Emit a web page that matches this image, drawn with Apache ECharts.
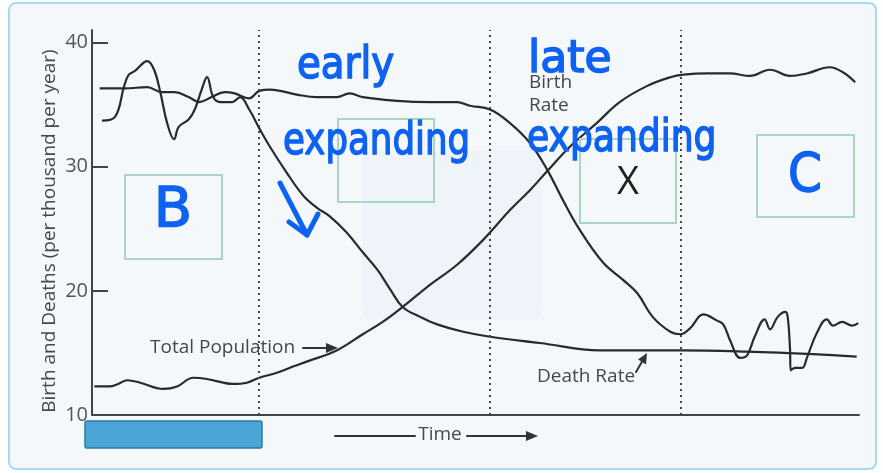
<!DOCTYPE html>
<html>
<head>
<meta charset="utf-8">
<title>Demographic transition</title>
<script src="https://cdn.jsdelivr.net/npm/echarts@6/dist/echarts.min.js"></script>
<style>
  html, body { margin: 0; padding: 0; background: #fff; }
  .card {
    position: absolute; left: 8px; top: 2px;
    width: 865px; height: 464px;
    border: 2px solid #a6daf3; border-radius: 8px;
    background: #f4f8fb;
  }
  #chart { position: absolute; left: 0; top: 0; width: 883px; height: 473px; }
</style>
</head>
<body>
<div class="card"></div>
<div id="chart"></div>
<script>
// values: [time, per thousand per year]
const birthRate = [
  [1.0, 36.3], [4.3, 36.3], [7.2, 36.4], [9.1, 36.0], [10.8, 36.0], [12.6, 35.6],
  [14.0, 35.2], [15.6, 35.6], [17.3, 36.0], [18.6, 35.9], [20.5, 35.5], [21.8, 36.1],
  [23.2, 36.2], [26.7, 35.8], [29.3, 35.6], [31.9, 35.6], [33.6, 35.9], [35.3, 35.6],
  [39.8, 35.3], [44.1, 35.2], [47.6, 35.2], [49.3, 34.9], [51.9, 34.6], [54.5, 33.5],
  [57.1, 31.9], [59.3, 29.8], [61.4, 27.3], [63.6, 24.9], [66.6, 22.3], [69.2, 20.9],
  [71.1, 19.8], [73.1, 17.9], [75.4, 16.7], [76.7, 16.5], [78.0, 17.0], [79.7, 18.1],
  [81.5, 17.6], [82.3, 17.3], [83.2, 16.0], [84.5, 14.6], [85.4, 14.8], [86.4, 16.3],
  [87.7, 17.7], [88.4, 16.9], [89.4, 17.9], [90.4, 18.3], [90.7, 17.9], [91.0, 15.4],
  [91.1, 13.6], [91.7, 13.8], [92.6, 13.8], [93.2, 14.6], [94.5, 16.6], [95.8, 17.7],
  [96.6, 17.2], [97.8, 17.5], [99.1, 17.2], [99.9, 17.4]
];
const deathRate = [
  [1.3, 33.7], [3.0, 34.0], [4.2, 36.5], [4.8, 37.4], [5.6, 37.7], [7.2, 38.5],
  [8.1, 37.8], [8.9, 36.0], [9.8, 33.5], [10.7, 32.2], [11.3, 33.2], [12.6, 33.8],
  [13.4, 34.6], [14.3, 36.2], [15.0, 37.2], [15.8, 35.6], [16.7, 35.2], [18.3, 35.2],
  [19.3, 35.6], [20.5, 34.6], [21.8, 33.1], [23.2, 31.6], [25.4, 29.5], [27.5, 27.7],
  [29.3, 26.7], [31.0, 26.0], [33.2, 24.7], [35.3, 23.1], [37.2, 21.7], [38.9, 20.1],
  [40.5, 18.7], [42.8, 17.9], [45.0, 17.3], [48.4, 16.7], [51.9, 16.3], [58.4, 15.8],
  [66.2, 15.2], [76.7, 15.2], [85.4, 15.1], [94.0, 14.9], [99.7, 14.7]
];
const totalPopulation = [
  [0.3, 12.3], [2.3, 12.3], [3.4, 12.5], [4.6, 12.8], [6.3, 12.6], [9.3, 12.1],
  [11.1, 12.3], [13.2, 13.0], [15.0, 12.9], [18.4, 12.5], [20.2, 12.6], [21.8, 13.0],
  [24.1, 13.4], [26.2, 13.9], [28.0, 14.3], [31.9, 15.2], [35.3, 16.5], [37.9, 17.5],
  [40.5, 18.7], [44.1, 20.5], [47.6, 22.1], [51.0, 24.1], [54.5, 26.5], [57.1, 28.1],
  [59.3, 29.6], [62.3, 31.6], [65.8, 33.5], [68.8, 35.2], [72.4, 36.5], [75.4, 37.2],
  [77.1, 37.4], [80.2, 37.5], [83.2, 37.5], [85.8, 37.3], [88.4, 37.8], [91.0, 37.3],
  [93.2, 37.5], [96.2, 38.0], [97.9, 37.6], [99.5, 36.8]
];
const stageBounds = [21.8, 51.9, 76.7];
const yTicks = [10, 20, 30, 40];

const ink = '#2a2a2a';
const grey = '#474747';
const pen = '#0d62f2';
const boxLine = '#a9d6c0';
const sans = 'Open Sans';

const chart = echarts.init(document.getElementById('chart'));

function penText(text, x, y, size, sx, align) {
  return {
    type: 'text', x: x, y: y, scaleX: sx || 1, z: 20,
    style: {
      text: text, fontSize: size, fontFamily: 'DejaVu Sans',
      fill: pen, stroke: pen, lineWidth: 1.5,
      textAlign: align || 'left', textVerticalAlign: 'middle'
    }
  };
}
function label(text, x, y, size, align) {
  return {
    type: 'text', x: x, y: y, z: 10,
    style: {
      text: text, fontSize: size || 19, fontFamily: sans, fill: grey,
      textAlign: align || 'left', textVerticalAlign: 'middle'
    }
  };
}
function box(x, y, w, h) {
  return {
    type: 'rect', shape: { x: x, y: y, width: w, height: h }, z: 5,
    style: { fill: 'none', stroke: boxLine, lineWidth: 2 }
  };
}
function seg(points, color, width) {
  return {
    type: 'polyline', shape: { points: points }, z: 10,
    style: { stroke: color, lineWidth: width, fill: 'none', lineCap: 'round', lineJoin: 'round' }
  };
}
function head(points) {
  return { type: 'polygon', shape: { points: points }, z: 10, style: { fill: '#333' } };
}

const lineSeries = (name, data) => ({
  name: name,
  type: 'line',
  data: data,
  smooth: 0.4,
  symbol: 'none',
  lineStyle: { color: ink, width: 2.2 },
  z: 3
});

const option = {
  animation: false,
  grid: { left: 92, right: 24, top: 30, bottom: 58 },
  xAxis: {
    type: 'value', min: 0, max: 100,
    axisLine: { lineStyle: { color: '#444', width: 2 } },
    axisTick: { show: false },
    axisLabel: { show: false },
    splitLine: { show: false }
  },
  yAxis: {
    type: 'value', min: 10, max: 41,
    axisLine: { show: true, lineStyle: { color: '#444', width: 2 } },
    axisTick: {
      show: true, inside: true, length: 16, customValues: yTicks,
      lineStyle: { color: '#444', width: 2 }
    },
    axisLabel: {
      customValues: yTicks, color: '#555', fontSize: 20, fontFamily: sans, margin: 4
    },
    splitLine: { show: false }
  },
  series: [
    Object.assign(lineSeries('Birth Rate', birthRate), {
      markLine: {
        silent: true,
        symbol: 'none',
        label: { show: false },
        lineStyle: { color: '#444', type: [2, 4], width: 2 },
        data: stageBounds.map(v => ({ xAxis: v }))
      }
    }),
    lineSeries('Death Rate', deathRate),
    lineSeries('Total Population', totalPopulation)
  ],
  graphic: [
    // faint watermark behind the plot
    {
      type: 'rect', shape: { x: 362, y: 150, width: 180, height: 170, r: 10 }, z: 1,
      style: { fill: 'rgba(200,222,245,0.12)' }
    },
    // y axis title
    {
      type: 'text', x: 50, y: 231, rotation: Math.PI / 2, z: 10,
      style: {
        text: 'Birth and Deaths (per thousand per year)', fontSize: 19, fontFamily: sans,
        fill: grey, textAlign: 'center', textVerticalAlign: 'middle'
      }
    },
    // stage boxes
    box(125, 175, 97, 84),
    box(338, 119, 96, 83),
    box(580, 139, 96, 84),
    box(757, 135, 97, 82),
    {
      type: 'text', x: 628, y: 183, z: 10,
      style: { text: 'X', fontSize: 38, fontFamily: sans, fill: '#222',
        textAlign: 'center', textVerticalAlign: 'middle' }
    },
    // blue stage bar under the axis
    {
      type: 'rect', shape: { x: 85, y: 421, width: 177, height: 27, r: 2 }, z: 5,
      style: { fill: '#4aa6d6', stroke: '#2d7aa3', lineWidth: 1.5 }
    },
    // printed labels
    label('Total Population', 150, 348),
    seg([[303, 348], [328, 348]], '#333', 2),
    head([[338, 348], [326, 343], [326, 353]]),
    label('Birth', 529, 83),
    label('Rate', 529, 106),
    label('Death Rate', 537, 377),
    seg([[636, 372], [643, 360]], '#333', 2),
    head([[647, 353], [646, 364.5], [638, 359.5]]),
    label('Time', 440, 435, 19, 'center'),
    seg([[335, 436], [415, 436]], '#333', 2),
    seg([[467, 436], [528, 436]], '#333', 2),
    head([[538, 436], [526, 431], [526, 441]]),
    // handwritten notes
    penText('early', 297, 67, 44, 0.88),
    penText('expanding', 283, 143, 44, 0.81),
    penText('late', 528, 61, 44, 1),
    penText('expanding', 527, 140, 44, 0.82),
    penText('B', 173, 211, 56, 1, 'center'),
    penText('C', 805, 177, 54, 0.9, 'center'),
    seg([[280, 183], [307, 235]], pen, 5),
    seg([[289, 222], [307, 235], [318, 214]], pen, 5)
  ]
};

chart.setOption(option);
window.addEventListener('resize', () => chart.resize());
</script>
</body>
</html>
